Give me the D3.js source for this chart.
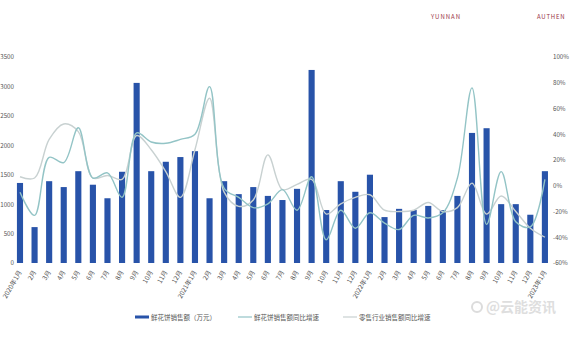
<!DOCTYPE html>
<html>
<head>
<meta charset="utf-8">
<script src="https://cdn.jsdelivr.net/npm/d3@7"></script>
<style>
  html, body { margin: 0; padding: 0; background: #fff; }
  svg { display: block; }
  text { font-family: "Noto Sans CJK SC", "Noto Sans", sans-serif; }
</style>
</head>
<body>
<svg id="chart" width="570" height="360"></svg>
<script>
// ---- data ----
const months = [
  "2020年1月","2月","3月","4月","5月","6月","7月","8月","9月","10月","11月","12月",
  "2021年1月","2月","3月","4月","5月","6月","7月","8月","9月","10月","11月","12月",
  "2022年1月","2月","3月","4月","5月","6月","7月","8月","9月","10月","11月","12月",
  "2023年1月"
];
// 鲜花饼销售额（万元）
const sales = [1360, 610, 1390, 1290, 1560, 1330, 1100, 1550, 3060, 1560, 1720, 1800,
               1900, 1100, 1390, 1170, 1290, 1140, 1070, 1260, 3280, 900, 1390, 1210,
               1500, 780, 920, 900, 970, 900, 1140, 2210, 2290, 1000, 1000, 820,
               1560];
// 鲜花饼销售额同比增速 (%)
const salesYoY = [-5, -23, 22, 18, 45, 6, 10, -9, 41, 34, 33, 36,
                  40, 77, -2, -9, -17, -14, -3, -19, 7, -42, -19, -33,
                  -21, -29, -34, -23, -25, -21, 6, 76, -30, 11, -28, -32,
                  5];
// 零售行业销售额同比增速 (%)
const retailYoY = [7, 6, 36, 48, 42, 6, 8, 5, 39, 28, 11, -9,
                   28, 68, -5, -16, -11, 24, -3, 1, 5, -22, -14, -9,
                   -7, -19, -20, -19, -13, -20, -17, 2, -22, -8, -20, -33,
                   -40];
const leftTicks = [0, 500, 1000, 1500, 2000, 2500, 3000, 3500];
const rightTicks = [-60, -40, -20, 0, 20, 40, 60, 80, 100];
const legendLabels = ["鲜花饼销售额（万元）", "鲜花饼销售额同比增速", "零售行业销售额同比增速"];

// ---- layout ----
const svg = d3.select("#chart");
const yTop = 57, yBot = 263;
const x = d3.scaleBand().domain(d3.range(months.length))
  .range([12.7, 552.2]).paddingInner(0.58).paddingOuter(0.29);
const yL = d3.scaleLinear().domain([0, 3500]).range([yBot, yTop]);
const yR = d3.scaleLinear().domain([-60, 100]).range([yBot, yTop]);

const barColor = "#2853a9", tealColor = "#93c4c6", grayColor = "#c8d1d1";

// header texts
svg.append("text").attr("x", 446).attr("y", 19).attr("text-anchor", "middle")
  .attr("font-family", "Liberation Serif, serif").attr("font-size", 6)
  .attr("letter-spacing", 1).attr("fill", "#9a3445").text("YUNNAN");
svg.append("text").attr("x", 537).attr("y", 19)
  .attr("font-family", "Liberation Serif, serif").attr("font-size", 6)
  .attr("letter-spacing", 0.8).attr("fill", "#9a3445").text("AUTHEN");

// left axis labels
const gL = svg.append("g").attr("transform", "translate(14,0)")
  .call(d3.axisLeft(yL).tickValues(leftTicks).tickSize(0).tickPadding(0)
    .tickFormat(d3.format("d")));
gL.select(".domain").remove();
gL.selectAll("text").attr("font-size", 6.2).attr("fill", "#555").attr("font-family", "Noto Sans, sans-serif");

// right axis labels
const gR = svg.append("g").attr("transform", "translate(553,0)")
  .call(d3.axisRight(yR).tickValues(rightTicks).tickSize(0).tickPadding(0)
    .tickFormat(d => d + "%"));
gR.select(".domain").remove();
gR.selectAll("text").attr("font-size", 6.2).attr("fill", "#555").attr("font-family", "Noto Sans, sans-serif");

// bars
svg.append("g").selectAll("rect").data(sales).join("rect")
  .attr("x", (d, i) => x(i))
  .attr("y", d => yL(d))
  .attr("width", x.bandwidth())
  .attr("height", d => yBot - yL(d))
  .attr("fill", barColor);

// lines
const cx = i => x(i) + x.bandwidth() / 2;
const line = d3.line().x((d, i) => cx(i)).y(d => yR(d)).curve(d3.curveCatmullRom.alpha(0.5));
svg.append("path").datum(retailYoY).attr("d", line)
  .attr("fill", "none").attr("stroke", grayColor).attr("stroke-width", 1.4);
svg.append("path").datum(salesYoY).attr("d", line)
  .attr("fill", "none").attr("stroke", tealColor).attr("stroke-width", 1.4);

// x labels
const gX = svg.append("g").attr("transform", `translate(0,${yBot})`)
  .call(d3.axisBottom(x).tickFormat(i => months[i]).tickSize(0).tickPadding(0));
gX.select(".domain").remove();
gX.selectAll("text")
  .attr("font-size", 6.5).attr("fill", "#555")
  .attr("text-anchor", "end")
  .attr("dy", 0)
  .attr("transform", "translate(2,9) rotate(-60)");

// legend
const lg = svg.append("g").attr("font-size", 6.5).attr("fill", "#555");
lg.append("rect").attr("x", 135).attr("y", 315.5).attr("width", 14).attr("height", 3).attr("fill", barColor);
lg.append("text").attr("x", 151).attr("y", 319.5).text(legendLabels[0]);
lg.append("line").attr("x1", 238).attr("x2", 252).attr("y1", 317).attr("y2", 317)
  .attr("stroke", tealColor).attr("stroke-width", 1.2);
lg.append("text").attr("x", 254).attr("y", 319.5).text(legendLabels[1]);
lg.append("line").attr("x1", 343).attr("x2", 357).attr("y1", 317).attr("y2", 317)
  .attr("stroke", grayColor).attr("stroke-width", 1.2);
lg.append("text").attr("x", 359).attr("y", 319.5).text(legendLabels[2]);

// watermark
svg.append("circle").attr("cx", 477).attr("cy", 307).attr("r", 5)
  .attr("fill", "none").attr("stroke", "#dcdcdc").attr("stroke-width", 2);
svg.append("text").attr("x", 486).attr("y", 312).attr("font-size", 14)
  .attr("font-weight", "bold").attr("fill", "#dedede").text("@云能资讯");
</script>
</body>
</html>
